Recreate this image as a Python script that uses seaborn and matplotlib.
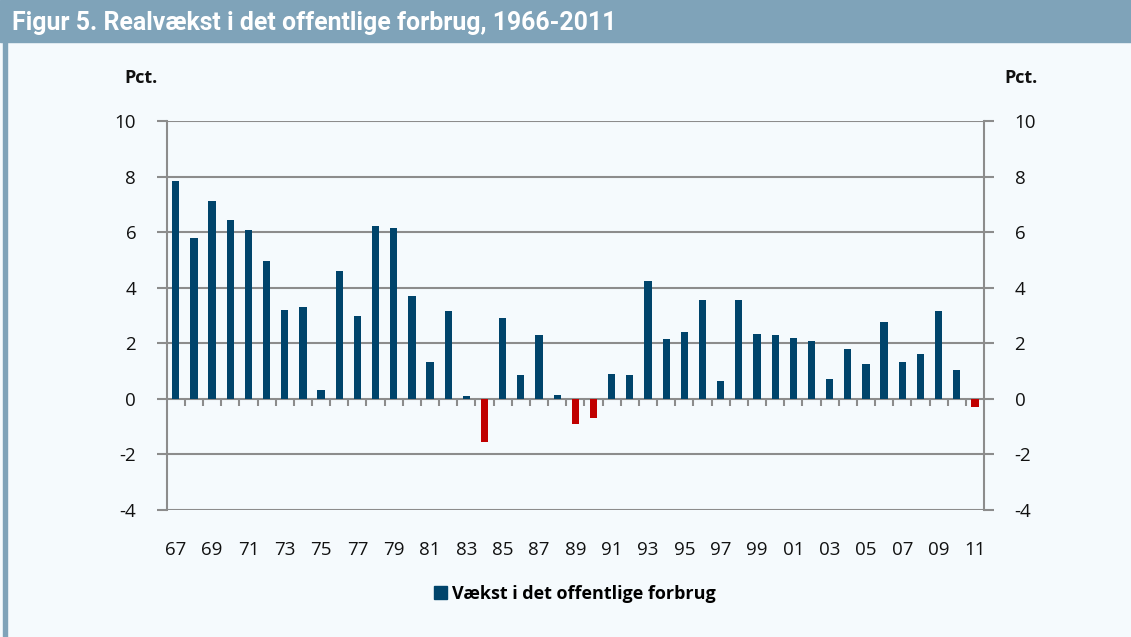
import matplotlib
matplotlib.use("Agg")
import matplotlib.pyplot as plt
from matplotlib.patches import Rectangle, Patch
import seaborn as sns
import pandas as pd

# ---- data ----
years = [str(y) for y in range(1967, 2012)]
growth = [7.83, 5.80, 7.11, 6.44, 6.09, 4.96, 3.18, 3.31, 0.31, 4.61,
          2.97, 6.23, 6.14, 3.69, 1.33, 3.15, 0.11, -1.56, 2.90, 0.85,
          2.31, 0.14, -0.90, -0.68, 0.90, 0.86, 4.23, 2.17, 2.42, 3.56,
          0.66, 3.54, 2.35, 2.31, 2.19, 2.07, 0.72, 1.80, 1.27, 2.76,
          1.33, 1.63, 3.15, 1.05, -0.29]
tick_labels = ["67", "69", "71", "73", "75", "77", "79", "81", "83", "85",
               "87", "89", "91", "93", "95", "97", "99", "01", "03", "05",
               "07", "09", "11"]
y_ticks = [10, 8, 6, 4, 2, 0, -2, -4]
title = "Figur 5. Realvækst i det offentlige forbrug, 1966-2011"
series_name = "Vækst i det offentlige forbrug"

POS = "#00446B"
NEG = "#C00000"
BG = "#F5FAFD"
BAND = "#7FA3B9"
GRID = "#8C8C8C"

df = pd.DataFrame({"year": years, "growth": growth})
df["sign"] = ["neg" if v < 0 else "pos" for v in growth]

W, H = 1131, 637
fig = plt.figure(figsize=(W / 100, H / 100), dpi=100, facecolor=BG)
plt.rcParams["font.family"] = ["Open Sans", "DejaVu Sans"]

# header band and left border
band_h = 42 / H
fig.add_artist(Rectangle((0, 1 - band_h), 1, band_h, transform=fig.transFigure,
                         color=BAND, zorder=0))
fig.add_artist(Rectangle((3 / W, 0), 4 / W, 1 - band_h, transform=fig.transFigure,
                         color=BAND, zorder=0))
fig.text(12 / W, 1 - 23 / H, title, color="white", fontsize=17.9, fontweight="bold",
         family=["Roboto", "DejaVu Sans"], va="center", ha="left")

left, right = 166.7 / W, 984 / W
top, bottom = 1 - 121 / H, 1 - 510 / H
ax = fig.add_axes([left, bottom, right - left, top - bottom])
ax.set_facecolor(BG)

sns.barplot(data=df, x="year", y="growth", hue="sign",
            palette={"pos": POS, "neg": NEG}, width=0.4, saturation=1,
            legend=False, ax=ax, zorder=3)

ax.set_xlim(-0.5, len(years) - 0.5)
ax.set_ylim(-4, 10)
ax.set_yticks(y_ticks)
ax.set_yticklabels([str(v) for v in y_ticks])
ax.grid(axis="y", color=GRID, linewidth=1.5, zorder=1)
ax.set_axisbelow(True)
for s in ["top", "bottom"]:
    ax.spines[s].set_visible(False)
for s in ["left", "right"]:
    ax.spines[s].set_color(GRID)
    ax.spines[s].set_linewidth(1.5)
    ax.spines[s].set_visible(True)

ax.tick_params(axis="y", which="both", left=True, right=True, labelleft=True,
               labelright=True, direction="out", length=7, width=1.5,
               color=GRID, labelsize=13.5, pad=15, labelcolor="#111111")
ax.set_xticks(list(range(0, len(years), 2)))
ax.set_xticklabels(tick_labels)
ax.tick_params(axis="x", length=0, labelsize=13.5, pad=22, labelcolor="#111111")
ax.set_xlabel("")
ax.set_ylabel("")

# small category-boundary tick marks on the zero line
sec = ax.secondary_xaxis(4 / 14)
sec.set_xticks([i + 0.5 for i in range(len(years) - 1)])
sec.tick_params(axis="x", direction="out", length=5, width=1.5, color=GRID,
                labelbottom=False, labeltop=False)
sec.spines["bottom"].set_visible(False)
sec.spines["top"].set_visible(False)

fig.text(141 / W, 1 - 78 / H, "Pct.", fontsize=13, fontweight="bold",
         ha="center", va="center", color="#111111")
fig.text(1021 / W, 1 - 78 / H, "Pct.", fontsize=13, fontweight="bold",
         ha="center", va="center", color="#111111")

fig.legend(handles=[Patch(facecolor=POS, edgecolor=POS, label=series_name)],
           loc="center", bbox_to_anchor=(575 / W, 1 - 594 / H), frameon=False,
           prop={"size": 13, "weight": "bold"}, handlelength=0.7,
           handleheight=0.7, handletextpad=0.3)

fig.savefig("out.png", dpi=100, facecolor=BG)
